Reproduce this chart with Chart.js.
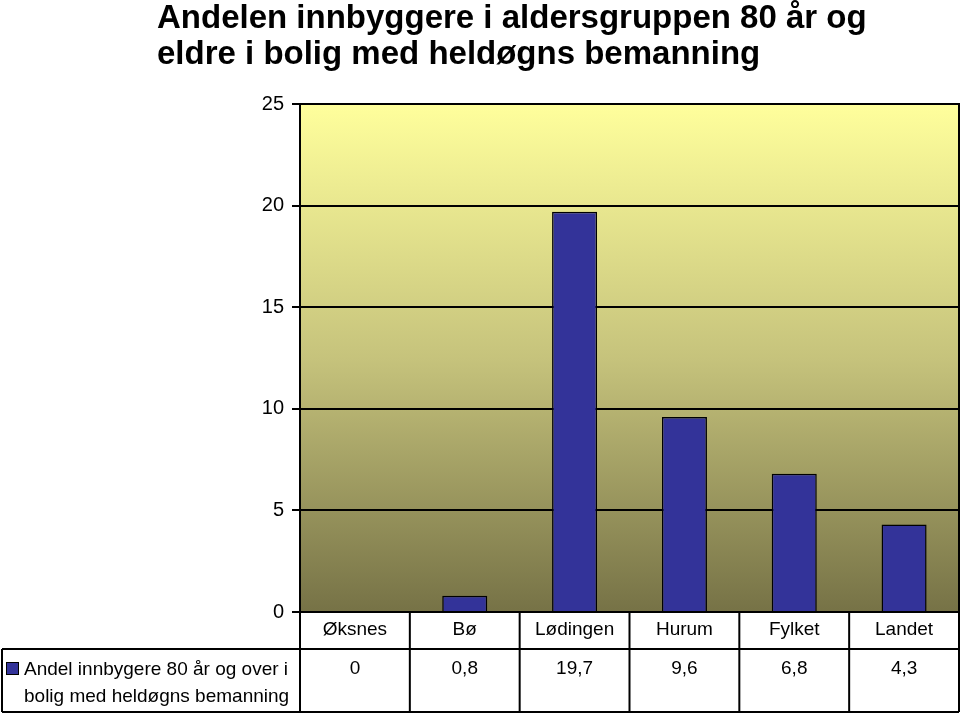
<!DOCTYPE html>
<html>
<head>
<meta charset="utf-8">
<script src="https://cdn.jsdelivr.net/npm/chart.js@4"></script>
<style>
    html, body { margin: 0; padding: 0; background: #fff; }
    #wrap { width: 960px; height: 714px; }
</style>
</head>
<body>
<div id="wrap"><canvas id="chart" width="960" height="714"></canvas></div>
<script>
    "use strict";

    var titleLines = ["Andelen innbyggere i aldersgruppen 80 år og", "eldre i bolig med heldøgns bemanning"];
    var categories = ["Øksnes", "Bø", "Lødingen", "Hurum", "Fylket", "Landet"];
    var values = [0, 0.8, 19.7, 9.6, 6.8, 4.3];
    var seriesLabel = ["Andel innbygere 80 år og over i", "bolig med heldøgns bemanning"];
    var yTicks = [0, 5, 10, 15, 20, 25];

    var FONT = "'Liberation Sans', Arial, sans-serif";
    var BAR = "#333399";

    var plotBg = {
        id: "plotBg",
        beforeDraw: function (chart) {
            var a = chart.chartArea, ctx = chart.ctx;
            var g = ctx.createLinearGradient(0, a.top, 0, a.bottom);
            g.addColorStop(0, "#ffff9c");
            g.addColorStop(0.5, "#c6c37c");
            g.addColorStop(1, "#767246");
            ctx.save();
            ctx.fillStyle = g;
            ctx.fillRect(a.left, a.top, a.right - a.left, a.bottom - a.top);
            ctx.restore();
        },
        afterDraw: function (chart) {
            var a = chart.chartArea, ctx = chart.ctx;
            var x = chart.scales.x;
            ctx.save();
            // plot frame
            ctx.strokeStyle = "#000";
            ctx.lineWidth = 2;
            ctx.strokeRect(a.left, a.top, a.right - a.left, a.bottom - a.top);

            // title
            ctx.fillStyle = "#000";
            ctx.font = "bold 33px " + FONT;
            ctx.textBaseline = "alphabetic";
            ctx.textAlign = "left";
            ctx.fillText(titleLines[0], 157, 28);
            ctx.fillText(titleLines[1], 157, 64);

            // data table
            var rowMid = 649, bottom = 712;
            ctx.lineWidth = 2;
            ctx.beginPath();
            ctx.moveTo(2, rowMid); ctx.lineTo(a.right, rowMid);
            ctx.moveTo(2, bottom); ctx.lineTo(a.right, bottom);
            ctx.moveTo(2, rowMid); ctx.lineTo(2, bottom);
            var step = (a.right - a.left) / categories.length;
            for (var i = 0; i <= categories.length; i++) {
                var bx = a.left + step * i;
                ctx.moveTo(bx, a.bottom); ctx.lineTo(bx, bottom);
            }
            ctx.stroke();

            ctx.font = "19px " + FONT;
            ctx.textBaseline = "middle";
            ctx.textAlign = "center";
            categories.forEach(function (c, i) {
                var cx = x.getPixelForValue(i);
                ctx.fillText(c, cx, 630);
                ctx.fillText(String(values[i]).replace(".", ","), cx, 669);
            });

            // legend key
            ctx.fillStyle = BAR;
            ctx.fillRect(6, 662, 13, 13);
            ctx.lineWidth = 1;
            ctx.strokeRect(6.5, 662.5, 12, 12);
            ctx.fillStyle = "#000";
            ctx.textAlign = "left";
            ctx.fillText(seriesLabel[0], 24, 670);
            ctx.fillText(seriesLabel[1], 24, 697);
            ctx.restore();
        }
    };

    new Chart(document.getElementById("chart").getContext("2d"), {
        type: "bar",
        data: {
            labels: categories,
            datasets: [{
                label: seriesLabel.join(" "),
                data: values,
                backgroundColor: BAR,
                borderColor: "#000",
                borderWidth: 1.5,
                categoryPercentage: 1,
                barPercentage: 0.41
            }]
        },
        options: {
            responsive: false,
            animation: false,
            layout: { padding: { top: 104, bottom: 94, right: 1, left: 0 } },
            plugins: {
                legend: { display: false },
                title: { display: false },
                tooltip: { enabled: false }
            },
            scales: {
                x: {
                    grid: { display: false },
                    border: { display: false },
                    ticks: { display: false }
                },
                y: {
                    min: 0,
                    max: 25,
                    afterFit: function (s) { s.width = 300; },
                    afterBuildTicks: function (s) {
                        s.ticks = yTicks.map(function (v) { return { value: v }; });
                    },
                    grid: { color: "#000", lineWidth: 2, tickLength: 8 },
                    border: { display: true, color: "#000", width: 2 },
                    ticks: {
                        color: "#000",
                        padding: 8,
                        font: { family: FONT, size: 20 }
                    }
                }
            }
        },
        plugins: [plotBg]
    });
</script>
</body>
</html>
